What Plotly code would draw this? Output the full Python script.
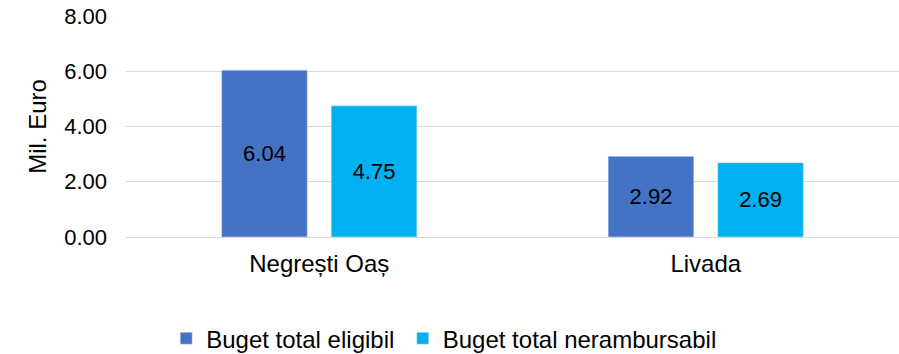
import plotly.graph_objects as go

categories = ["Negrești Oaș", "Livada"]
eligibil = [6.04, 2.92]
nerambursabil = [4.75, 2.69]
series_names = ["Buget total eligibil", "Buget total nerambursabil"]
tick_values = [0, 2, 4, 6, 8]

font_family = "Liberation Sans, Arial, sans-serif"

fig = go.Figure()
fig.add_trace(go.Bar(
    x=categories, y=eligibil, name=series_names[0],
    marker_color="#4472C4", legend="legend",
    text=[f"{v:.2f}" for v in eligibil], textposition="inside",
    insidetextanchor="middle", textfont=dict(color="#000000", size=22),
))
fig.add_trace(go.Bar(
    x=categories, y=nerambursabil, name=series_names[1],
    marker_color="#00B0F0", legend="legend2",
    text=[f"{v:.2f}" for v in nerambursabil], textposition="inside",
    insidetextanchor="middle", textfont=dict(color="#000000", size=22),
))

legend_style = dict(
    orientation="h", xanchor="left", y=-0.46, yanchor="middle",
    font=dict(size=24), itemwidth=30, bgcolor="rgba(0,0,0,0)",
)

fig.update_layout(
    width=899, height=354,
    margin=dict(l=126, r=0, t=16, b=117, autoexpand=False),
    paper_bgcolor="white", plot_bgcolor="white",
    barmode="group", bargap=0.433, bargroupgap=0.218,
    font=dict(family=font_family, size=22, color="#000000"),
    showlegend=True,
    legend=dict(x=0.052, **legend_style),
    legend2=dict(x=0.358, **legend_style),
    uniformtext=dict(minsize=22, mode="show"),
)
fig.update_yaxes(
    range=[0, 8], tickvals=tick_values, tickformat=".2f",
    showgrid=True, gridcolor="#D9D9D9", gridwidth=1,
    zeroline=True, zerolinecolor="#D9D9D9", zerolinewidth=1,
    showline=False, ticks="", ticklen=0, ticklabelstandoff=18,
    title=dict(text="Mil. Euro", font=dict(size=24), standoff=10),
    tickfont=dict(size=22), automargin=False,
)
fig.update_xaxes(
    showline=False, ticks="", tickfont=dict(size=24), ticklabelstandoff=10,
    automargin=False,
)

fig.write_html("out.html")
